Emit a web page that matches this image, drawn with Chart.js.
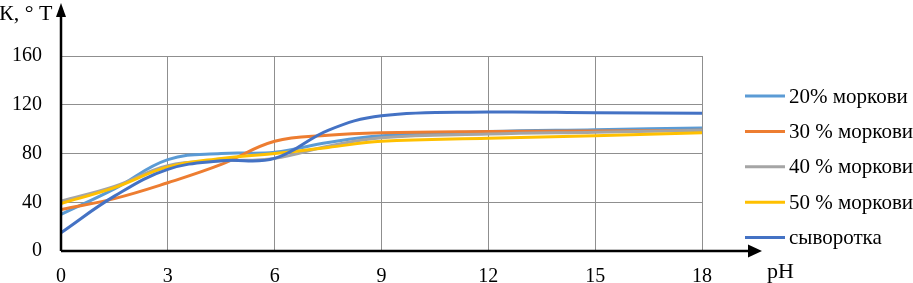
<!DOCTYPE html>
<html>
<head>
<meta charset="utf-8">
<script src="https://cdn.jsdelivr.net/npm/chart.js@4"></script>
<style>
  html, body { margin: 0; padding: 0; background: #fff; }
  #wrap { width: 913px; height: 283px; }
</style>
</head>
<body>
<div id="wrap"><canvas id="chart"></canvas></div>
<script>
const phValues = [0, 1.5, 3, 4.5, 6, 7.5, 9, 12, 15, 18];
const carrot20 = [30, 51, 75, 80, 81, 89, 94.5, 98, 99.5, 101];
const carrot30 = [34, 43, 56, 71, 90, 95, 97, 98, 98.5, 99];
const carrot40 = [41, 53, 70, 74, 76, 86, 93, 96, 97.5, 99];
const carrot50 = [39, 52, 69, 76, 80, 85, 90, 92.5, 94.5, 97];
const whey = [15, 45, 67, 74, 76, 99, 111, 114, 113.5, 113];

const seriesNames = ['20% моркови', '30 % моркови', '40 % моркови', '50 % моркови', 'сыворотка'];
const seriesColors = ['#5B9BD5', '#ED7D31', '#A5A5A5', '#FFC000', '#4472C4'];
const seriesValues = [carrot20, carrot30, carrot40, carrot50, whey];

const FONT = 'Liberation Serif';

const points = vals => vals.map((v, i) => ({ x: phValues[i], y: v }));

// axes with arrows, axis titles and the legend on the right
const decorPlugin = {
  id: 'decor',
  afterDraw(chart) {
    const ctx = chart.ctx;
    const { left, bottom } = chart.chartArea;
    ctx.save();
    ctx.strokeStyle = '#000';
    ctx.fillStyle = '#000';
    ctx.lineWidth = 2.5;

    ctx.beginPath();
    ctx.moveTo(left, bottom);
    ctx.lineTo(left, 14);
    ctx.moveTo(left, bottom);
    ctx.lineTo(750, bottom);
    ctx.stroke();

    ctx.beginPath();
    ctx.moveTo(left, 3);
    ctx.lineTo(left - 5, 17);
    ctx.lineTo(left + 5, 17);
    ctx.closePath();
    ctx.fill();

    ctx.beginPath();
    ctx.moveTo(762, bottom);
    ctx.lineTo(748, bottom - 6.5);
    ctx.lineTo(748, bottom + 6.5);
    ctx.closePath();
    ctx.fill();

    ctx.font = '22px "' + FONT + '"';
    ctx.textBaseline = 'alphabetic';
    ctx.textAlign = 'left';
    ctx.fillText('К, ° Т', -1, 20);
    ctx.fillText('pH', 767, 278);

    // legend
    ctx.font = '21px "' + FONT + '"';
    ctx.textBaseline = 'middle';
    chart.data.datasets.forEach((ds, i) => {
      const y = 96 + i * 35.4;
      ctx.strokeStyle = ds.borderColor;
      ctx.lineWidth = 3;
      ctx.beginPath();
      ctx.moveTo(745, y);
      ctx.lineTo(785, y);
      ctx.stroke();
      ctx.fillStyle = '#000';
      ctx.fillText(ds.label, 789, y + 1);
    });
    ctx.restore();
  }
};

new Chart(document.getElementById('chart').getContext('2d'), {
  type: 'line',
  data: {
    datasets: seriesNames.map((name, i) => ({
      label: name,
      data: points(seriesValues[i]),
      borderColor: seriesColors[i],
      backgroundColor: seriesColors[i],
      borderWidth: 3,
      pointRadius: 0,
      tension: 0.4,
      fill: false,
      order: seriesNames.length - i,
    })),
  },
  options: {
    responsive: true,
    maintainAspectRatio: false,
    animation: false,
    layout: { padding: { top: 56, right: 211, left: 0, bottom: 0 } },
    plugins: {
      legend: { display: false },
      tooltip: { enabled: false },
    },
    scales: {
      x: {
        type: 'linear',
        min: 0,
        max: 18,
        afterFit: s => { s.height = 32; },
        border: { display: false },
        grid: { color: '#8f8f8f', lineWidth: 1, drawTicks: false },
        ticks: {
          stepSize: 3,
          padding: 14,
          color: '#000',
          font: { family: FONT, size: 20 },
        },
      },
      y: {
        min: 0,
        max: 160,
        afterFit: s => { s.width = 61; },
        border: { display: false },
        grid: { color: '#8f8f8f', lineWidth: 1, drawTicks: false },
        ticks: {
          stepSize: 40,
          padding: 19,
          color: '#000',
          font: { family: FONT, size: 20 },
        },
      },
    },
  },
  plugins: [decorPlugin],
});
</script>
</body>
</html>
